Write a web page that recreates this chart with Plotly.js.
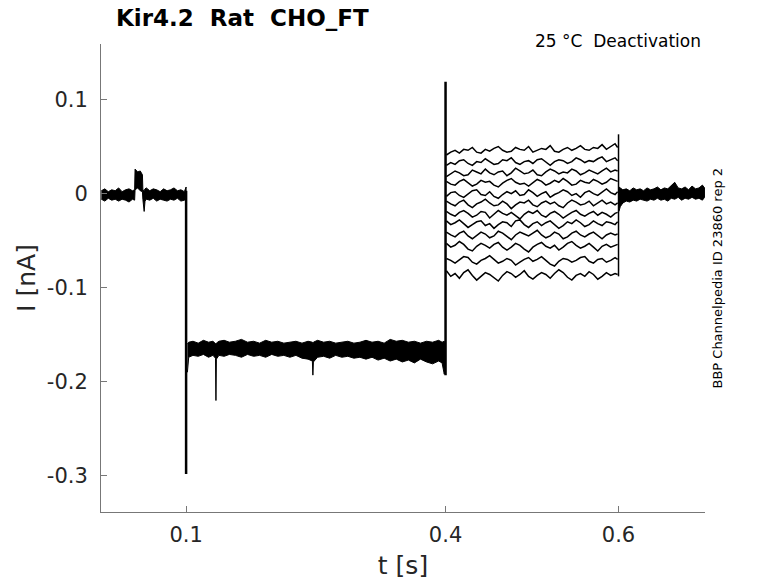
<!DOCTYPE html>
<html>
<head>
<meta charset="utf-8">
<script src="https://cdn.plot.ly/plotly-3.0.1.min.js"></script>
<style>html,body{margin:0;padding:0;background:#fff;}#chart{width:778px;height:583px;}</style>
</head>
<body>
<div id="chart"></div>
<script>
// ---------- data (t in s, I in nA) ----------
// holding period 0 .. 0.1 s (envelope of all overlapping sweeps)
const baseT  = [0.002,0.006,0.010,0.014,0.018,0.022,0.026,0.030,0.034,0.038,0.0405,0.041,0.044,0.047,0.0495,0.050,0.0515,0.0525,0.054,0.058,0.062,0.066,0.070,0.074,0.078,0.082,0.086,0.090,0.094,0.098,0.1];
const baseUp = [0.003,0.005,0.002,0.004,0.003,0.006,0.002,0.004,0.005,0.003,0.004,0.026,0.023,0.024,0.020,0.004,0.003,0.005,0.006,0.003,0.005,0.004,0.002,0.005,0.003,0.004,0.006,0.003,0.004,0.002,0.007];
const baseLo = [-0.006,-0.008,-0.005,-0.007,-0.006,-0.008,-0.006,-0.007,-0.009,-0.006,-0.007,0.004,0.006,0.003,0.002,-0.006,-0.019,-0.008,-0.006,-0.007,-0.005,-0.008,-0.006,-0.007,-0.008,-0.006,-0.007,-0.005,-0.008,-0.007,-0.006];

// conditioning step 0.1 .. 0.4 s (envelope)
const stepT  = [0.1015,0.103,0.108,0.114,0.120,0.126,0.131,0.1340,0.1345,0.1350,0.138,0.144,0.150,0.157,0.164,0.171,0.178,0.185,0.192,0.199,0.206,0.213,0.220,0.227,0.234,0.241,0.2460,0.2466,0.2472,0.252,0.259,0.266,0.273,0.280,0.287,0.294,0.301,0.308,0.315,0.322,0.329,0.336,0.343,0.350,0.357,0.364,0.371,0.378,0.385,0.392,0.396,0.3985,0.3995];
const stepUp = [-0.160,-0.158,-0.157,-0.159,-0.156,-0.158,-0.157,-0.159,-0.160,-0.159,-0.157,-0.156,-0.158,-0.157,-0.155,-0.158,-0.157,-0.159,-0.156,-0.158,-0.157,-0.159,-0.158,-0.157,-0.159,-0.157,-0.158,-0.160,-0.158,-0.156,-0.158,-0.157,-0.159,-0.158,-0.157,-0.159,-0.158,-0.156,-0.158,-0.157,-0.159,-0.155,-0.157,-0.156,-0.158,-0.157,-0.159,-0.157,-0.158,-0.156,-0.158,-0.157,-0.159];
const stepLo = [-0.190,-0.174,-0.172,-0.173,-0.171,-0.174,-0.172,-0.175,-0.220,-0.176,-0.172,-0.173,-0.171,-0.172,-0.174,-0.171,-0.173,-0.172,-0.174,-0.171,-0.173,-0.172,-0.174,-0.172,-0.175,-0.176,-0.178,-0.193,-0.179,-0.174,-0.173,-0.175,-0.172,-0.174,-0.173,-0.175,-0.174,-0.176,-0.174,-0.177,-0.175,-0.178,-0.176,-0.179,-0.177,-0.180,-0.176,-0.179,-0.181,-0.178,-0.180,-0.192,-0.185];

// return to holding 0.6 .. 0.7 s (envelope)
const tailT  = [0.6005,0.602,0.605,0.609,0.613,0.617,0.621,0.625,0.629,0.633,0.637,0.641,0.645,0.649,0.653,0.657,0.661,0.665,0.669,0.673,0.677,0.681,0.685,0.689,0.693,0.697,0.6995];
const tailUp = [0.007,0.006,0.004,0.005,0.003,0.006,0.004,0.005,0.003,0.006,0.004,0.005,0.007,0.004,0.006,0.005,0.008,0.012,0.006,0.005,0.007,0.004,0.008,0.005,0.006,0.009,0.006];
const tailLo = [-0.019,-0.014,-0.010,-0.008,-0.009,-0.007,-0.008,-0.006,-0.007,-0.008,-0.006,-0.007,-0.005,-0.007,-0.006,-0.008,-0.005,-0.006,-0.004,-0.007,-0.005,-0.006,-0.004,-0.006,-0.005,-0.007,-0.004];

// capacitive edges (vertical transients)
const edgeT    = [0.1, 0.4, 0.6];
const edgeLow  = [-0.298, -0.193, -0.088];
const edgeHigh = [0.003, 0.119, 0.063];

// deactivation test pulses 0.4 .. 0.6 s, one array per sweep
const testT = [0.401,0.406,0.411,0.416,0.421,0.426,0.431,0.436,0.441,0.446,0.451,0.456,0.461,0.466,0.471,0.476,0.481,0.486,0.491,0.496,0.501,0.506,0.511,0.516,0.521,0.526,0.531,0.536,0.541,0.546,0.551,0.556,0.561,0.566,0.571,0.576,0.581,0.586,0.591,0.596,0.599];
const sweep1  = [0.041,0.044,0.046,0.043,0.047,0.046,0.049,0.044,0.043,0.047,0.045,0.048,0.050,0.046,0.044,0.045,0.049,0.047,0.046,0.050,0.044,0.046,0.048,0.047,0.051,0.045,0.044,0.047,0.049,0.046,0.048,0.051,0.047,0.046,0.049,0.048,0.052,0.047,0.050,0.053,0.049];
const sweep2  = [0.030,0.033,0.031,0.035,0.036,0.032,0.030,0.034,0.033,0.037,0.034,0.031,0.032,0.036,0.035,0.038,0.033,0.031,0.034,0.035,0.032,0.036,0.037,0.033,0.030,0.034,0.036,0.035,0.032,0.034,0.038,0.036,0.033,0.035,0.034,0.037,0.039,0.034,0.036,0.038,0.035];
const sweep3  = [0.018,0.021,0.024,0.022,0.019,0.020,0.025,0.023,0.021,0.026,0.022,0.020,0.023,0.024,0.019,0.022,0.027,0.024,0.021,0.022,0.025,0.020,0.019,0.023,0.026,0.024,0.021,0.023,0.022,0.026,0.024,0.020,0.022,0.025,0.023,0.021,0.024,0.027,0.023,0.025,0.024];
const sweep4  = [0.013,0.010,0.009,0.013,0.015,0.011,0.008,0.010,0.014,0.012,0.013,0.009,0.007,0.011,0.014,0.016,0.012,0.010,0.011,0.008,0.012,0.015,0.013,0.009,0.011,0.014,0.012,0.016,0.013,0.009,0.010,0.014,0.012,0.011,0.015,0.013,0.010,0.012,0.016,0.014,0.013];
const sweep5  = [-0.003,0.001,0.002,-0.002,-0.004,0.000,0.003,0.004,-0.001,-0.002,0.002,-0.003,-0.005,-0.001,0.002,0.000,0.003,-0.002,-0.001,0.004,0.001,-0.003,0.000,0.002,-0.004,-0.001,0.001,0.004,0.002,-0.002,0.000,-0.004,0.001,0.003,0.000,-0.002,0.002,0.005,0.001,-0.001,0.002];
const sweep6  = [-0.008,-0.011,-0.013,-0.009,-0.007,-0.012,-0.015,-0.011,-0.009,-0.006,-0.010,-0.013,-0.012,-0.008,-0.011,-0.016,-0.012,-0.009,-0.010,-0.007,-0.012,-0.014,-0.010,-0.008,-0.011,-0.009,-0.013,-0.015,-0.010,-0.007,-0.009,-0.012,-0.011,-0.008,-0.013,-0.010,-0.007,-0.011,-0.009,-0.012,-0.010];
const sweep7  = [-0.019,-0.022,-0.024,-0.020,-0.018,-0.021,-0.025,-0.023,-0.019,-0.020,-0.026,-0.022,-0.018,-0.021,-0.023,-0.020,-0.024,-0.027,-0.022,-0.019,-0.021,-0.018,-0.023,-0.025,-0.021,-0.019,-0.022,-0.026,-0.023,-0.020,-0.018,-0.022,-0.024,-0.021,-0.019,-0.023,-0.020,-0.022,-0.025,-0.021,-0.020];
const sweep8  = [-0.029,-0.033,-0.031,-0.028,-0.032,-0.036,-0.033,-0.030,-0.029,-0.034,-0.032,-0.037,-0.033,-0.030,-0.031,-0.035,-0.029,-0.028,-0.033,-0.036,-0.032,-0.030,-0.034,-0.031,-0.029,-0.033,-0.037,-0.034,-0.030,-0.032,-0.028,-0.031,-0.035,-0.033,-0.029,-0.032,-0.034,-0.030,-0.031,-0.033,-0.030];
const sweep9  = [-0.041,-0.044,-0.046,-0.042,-0.040,-0.045,-0.048,-0.044,-0.041,-0.043,-0.047,-0.045,-0.040,-0.042,-0.046,-0.049,-0.044,-0.041,-0.043,-0.045,-0.042,-0.039,-0.044,-0.047,-0.045,-0.041,-0.043,-0.048,-0.046,-0.042,-0.040,-0.044,-0.046,-0.043,-0.041,-0.045,-0.048,-0.044,-0.042,-0.044,-0.043];
const sweep10 = [-0.053,-0.057,-0.055,-0.051,-0.054,-0.059,-0.061,-0.056,-0.053,-0.055,-0.058,-0.054,-0.052,-0.057,-0.060,-0.057,-0.053,-0.055,-0.059,-0.062,-0.057,-0.054,-0.052,-0.056,-0.058,-0.055,-0.060,-0.057,-0.053,-0.051,-0.055,-0.058,-0.056,-0.053,-0.057,-0.061,-0.056,-0.054,-0.057,-0.055,-0.054];
const sweep11 = [-0.069,-0.071,-0.074,-0.070,-0.067,-0.068,-0.073,-0.075,-0.071,-0.069,-0.066,-0.070,-0.074,-0.072,-0.069,-0.071,-0.076,-0.073,-0.070,-0.068,-0.072,-0.070,-0.067,-0.071,-0.075,-0.077,-0.072,-0.069,-0.070,-0.073,-0.071,-0.068,-0.067,-0.072,-0.074,-0.070,-0.069,-0.073,-0.071,-0.068,-0.070];
const sweep12 = [-0.082,-0.088,-0.085,-0.090,-0.084,-0.081,-0.087,-0.092,-0.088,-0.084,-0.086,-0.090,-0.093,-0.087,-0.083,-0.085,-0.089,-0.086,-0.082,-0.088,-0.091,-0.087,-0.084,-0.086,-0.090,-0.085,-0.081,-0.084,-0.089,-0.092,-0.087,-0.085,-0.088,-0.083,-0.086,-0.091,-0.088,-0.084,-0.087,-0.085,-0.086];

// axis ticks
const xTickVals = [0.1, 0.4, 0.6];
const xTickText = ['0.1', '0.4', '0.6'];
const yTickVals = [-0.3, -0.2, -0.1, 0, 0.1];
const yTickText = ['-0.3', '-0.2', '-0.1', '0', '0.1'];

// ---------- traces ----------
const FONT = 'DejaVu Sans, Liberation Sans, sans-serif';
const traces = [];
function band(T, up, lo) {
  const n = Math.min(T.length, up.length, lo.length);
  const t = T.slice(0, n), u = up.slice(0, n), l = lo.slice(0, n);
  return {
    type: 'scatter', mode: 'lines',
    x: t.concat(t.slice().reverse()),
    y: u.concat(l.slice().reverse()),
    fill: 'toself', fillcolor: '#000',
    line: {color: '#000', width: 1},
    hoverinfo: 'skip', showlegend: false
  };
}
traces.push(band(baseT, baseUp, baseLo));
traces.push(band(stepT, stepUp, stepLo));
traces.push(band(tailT, tailUp, tailLo));

const sweeps = [sweep1, sweep2, sweep3, sweep4, sweep5, sweep6, sweep7, sweep8, sweep9, sweep10, sweep11, sweep12];
sweeps.forEach(s => traces.push({
  type: 'scatter', mode: 'lines', x: testT, y: s,
  line: {color: '#000', width: 1.5}, hoverinfo: 'skip', showlegend: false
}));

edgeT.forEach((t, i) => traces.push({
  type: 'scatter', mode: 'lines', x: [t, t], y: [edgeLow[i], edgeHigh[i]],
  line: {color: '#000', width: i === 2 ? 1.5 : 2.5}, hoverinfo: 'skip', showlegend: false
}));

const layout = {
  width: 778, height: 583,
  margin: {l: 101, r: 73, t: 44, b: 71, pad: 0},
  paper_bgcolor: '#fff', plot_bgcolor: '#fff',
  font: {family: FONT, color: '#262626'},
  showlegend: false,
  title: {
    text: '<b>Kir4.2\u00a0\u00a0Rat\u00a0\u00a0CHO_FT</b>',
    font: {family: FONT, size: 23, color: '#000'},
    xref: 'container', yref: 'container',
    x: 116 / 778, xanchor: 'left',
    y: 1 - 18 / 583, yanchor: 'middle'
  },
  xaxis: {
    range: [0.0016, 0.7],
    tickmode: 'array', tickvals: xTickVals, ticktext: xTickText,
    ticks: 'inside', ticklen: 6, tickwidth: 1, tickcolor: '#777',
    showline: true, linecolor: '#777', linewidth: 1,
    showgrid: false, zeroline: false, mirror: false,
    tickfont: {family: FONT, size: 21, color: '#262626'},
    ticklabelstandoff: 4,
    title: {text: 't [s]', font: {family: FONT, size: 25, color: '#262626'}, standoff: 10}
  },
  yaxis: {
    range: [-0.3385, 0.159],
    automargin: true,
    tickmode: 'array', tickvals: yTickVals, ticktext: yTickText,
    ticks: 'inside', ticklen: 6, tickwidth: 1, tickcolor: '#777',
    showline: true, linecolor: '#777', linewidth: 1,
    showgrid: false, zeroline: false, mirror: false,
    tickfont: {family: FONT, size: 21, color: '#262626'},
    ticklabelstandoff: 8,
    title: {text: 'I [nA]', font: {family: FONT, size: 25, color: '#262626'}, standoff: 4}
  },
  annotations: [
    {
      text: '25 °C\u00a0\u00a0Deactivation', showarrow: false,
      xref: 'paper', yref: 'paper', x: (703 - 101) / 604, xanchor: 'right',
      y: (512 - 41) / 468, yanchor: 'middle',
      font: {family: FONT, size: 17, color: '#000'}
    },
    {
      text: 'BBP Channelpedia ID 23860 rep 2', showarrow: false, textangle: -90,
      xref: 'paper', yref: 'paper', x: (716.5 - 101) / 604, xanchor: 'center',
      y: (512 - 278) / 468, yanchor: 'middle',
      font: {family: FONT, size: 13, color: '#000'}
    }
  ]
};

Plotly.newPlot('chart', traces, layout, {staticPlot: true, displayModeBar: false});
</script>
</body>
</html>
